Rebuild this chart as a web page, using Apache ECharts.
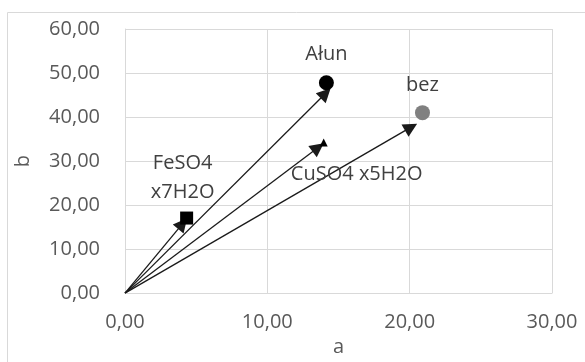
<!DOCTYPE html>
<html>
<head>
<meta charset="utf-8">
<script src="https://cdn.jsdelivr.net/npm/echarts@6/dist/echarts.min.js"></script>
<style>
  html, body { margin: 0; padding: 0; background: #fff; }
  #chart { width: 585px; height: 362px; }
</style>
</head>
<body>
<div id="chart"></div>
<script>
// Samples and their measured (a, b) coordinates
const names = ['Ałun', 'bez', 'CuSO4 x5H2O', 'FeSO4\nx7H2O'];
const valuesA = [14.15, 20.9, 13.96, 4.33];
const valuesB = [47.8, 41.0, 34.2, 17.05];

// Vectors drawn from the origin toward each sample (arrow tip coordinates)
const arrowA = [14.1, 20.1, 13.57, 4.05];
const arrowB = [45.4, 37.7, 33.1, 15.8];

// Axis ticks
const xTicks = [0, 10, 20, 30];
const yTicks = [0, 10, 20, 30, 40, 50, 60];

const markerStyle = [
  { symbol: 'circle', size: 15, color: '#000000', offset: [0, -28] },
  { symbol: 'circle', size: 15, color: '#808080', offset: [0, -27] },
  { symbol: 'triangle', size: 8, color: '#000000', offset: [33, 32] },
  { symbol: 'rect', size: 13, color: '#000000', offset: [-4, -40] }
];

const fmt = v => v.toFixed(2).replace('.', ',');
const textColor = '#595959';
const labelColor = '#404040';
const gridColor = '#d9d9d9';
const fontFamily = '"Open Sans", "Noto Sans", sans-serif';
const fontSize = 20;

const chart = echarts.init(document.getElementById('chart'));

const pointData = names.map((n, i) => ({
  name: n,
  value: [valuesA[i], valuesB[i]],
  symbol: markerStyle[i].symbol,
  symbolSize: markerStyle[i].size,
  itemStyle: { color: markerStyle[i].color, opacity: 1 },
  label: {
    show: true,
    formatter: '{b}',
    position: 'inside',
    offset: markerStyle[i].offset,
    color: labelColor,
    fontSize: fontSize,
    lineHeight: 29,
    fontFamily: fontFamily
  }
}));

const arrowData = names.map((n, i) => ({
  coords: [[0, 0], [arrowA[i], arrowB[i]]]
}));

chart.setOption({
  animation: false,
  graphic: [{
    type: 'rect',
    shape: { x: 7.5, y: 12.5, width: 700, height: 500 },
    style: { fill: 'none', stroke: gridColor, lineWidth: 1 },
    silent: true
  }],
  grid: { left: 125, right: 33, top: 29, bottom: 59 },
  xAxis: {
    type: 'value',
    min: xTicks[0],
    max: xTicks[xTicks.length - 1],
    interval: xTicks[1] - xTicks[0],
    name: 'a',
    nameLocation: 'middle',
    nameGap: 37,
    nameTextStyle: { color: textColor, fontSize: fontSize, fontFamily: fontFamily },
    axisLine: { show: true, lineStyle: { color: gridColor, width: 1 } },
    axisTick: { show: false },
    splitLine: { show: true, lineStyle: { color: gridColor, width: 1 } },
    axisLabel: { formatter: fmt, color: textColor, fontSize: fontSize, margin: 19, fontFamily: fontFamily }
  },
  yAxis: {
    type: 'value',
    min: yTicks[0],
    max: yTicks[yTicks.length - 1],
    interval: yTicks[1] - yTicks[0],
    name: 'b',
    nameLocation: 'middle',
    nameGap: 92,
    nameTextStyle: { color: textColor, fontSize: fontSize, fontFamily: fontFamily },
    axisLine: { show: true, lineStyle: { color: gridColor, width: 1 } },
    axisTick: { show: false },
    splitLine: { show: true, lineStyle: { color: gridColor, width: 1 } },
    axisLabel: { formatter: fmt, color: textColor, fontSize: fontSize, margin: 25, fontFamily: fontFamily }
  },
  series: [
    {
      type: 'lines',
      coordinateSystem: 'cartesian2d',
      polyline: false,
      symbol: ['none', 'triangle'],
      symbolSize: [11, 14],
      lineStyle: { color: '#1a1a1a', width: 1.3, opacity: 1 },
      data: arrowData,
      z: 3
    },
    {
      type: 'scatter',
      data: pointData,
      z: 4
    }
  ]
});
</script>
</body>
</html>
